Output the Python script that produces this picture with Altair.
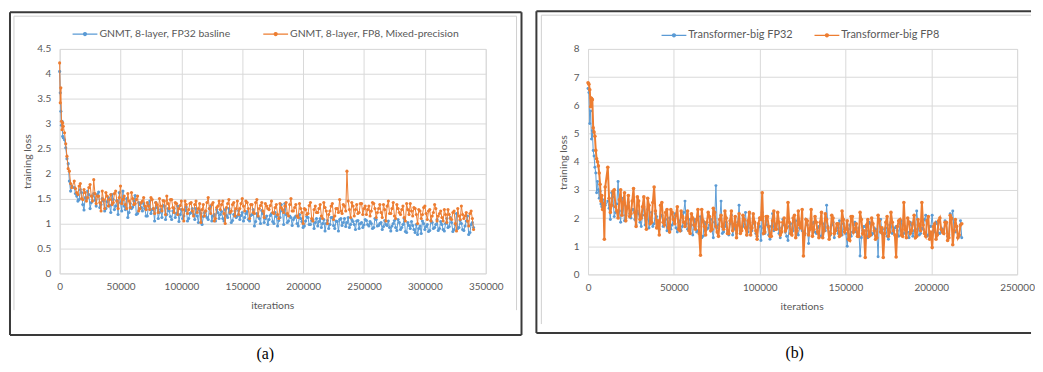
import altair as alt
import pandas as pd

BLUE = "#5B9BD5"
ORANGE = "#ED7D31"
GRID = "#D9D9D9"
TXT = "#595959"
FONT = "Lato"

# ---------------- panel (a) data ----------------
A_NAMES = ["GNMT, 8-layer, FP32 basline", "GNMT, 8-layer, FP8, Mixed-precision"]
A_ITER_EARLY = [0, 500, 1000, 1500, 2000, 2500, 3000, 4000, 5000, 6000, 7000, 8000, 9000, 10000]
A_ITER_EVEN = list(range(12000, 340001, 2000))   # 12000, 14000, ... 340000
A_ITER_ODD = list(range(13000, 339001, 2000))    # 13000, 15000, ... 339000
A_FP32_EARLY = [4.05, 3.62, 3.25, 2.97, 3.05, 2.75, 2.72, 2.68, 2.52, 2.30, 2.20, 1.85, 1.65, 1.75]
A_FP8_EARLY = [4.22, 3.42, 3.72, 3.05, 2.88, 3.02, 2.95, 2.82, 2.60, 2.35, 2.10, 2.05, 1.80, 1.72]
A_FP32_EVEN = [
    1.72, 1.55, 1.48, 1.62, 1.27, 1.50, 1.58, 1.42, 1.60, 1.35,
    1.63, 1.38, 1.45, 1.30, 1.52, 1.22, 1.48, 1.35, 1.18, 1.42,
    1.65, 1.28, 1.12, 1.40, 1.33, 1.56, 1.20, 1.38, 1.25, 1.30,
    1.15, 1.45, 1.28, 1.05, 1.32, 1.22, 1.12, 1.35, 1.18, 1.25,
    1.08, 1.30, 1.20, 1.04, 1.28, 1.15, 1.33, 1.10, 1.22, 1.18,
    1.30, 1.02, 1.20, 1.14, 1.25, 1.08, 1.35, 1.15, 1.05, 1.22,
    1.18, 1.10, 1.28, 1.12, 1.20, 1.06, 1.25, 1.15, 1.08, 1.22,
    1.12, 1.24, 1.05, 1.18, 0.95, 1.20, 1.10, 1.26, 1.02, 1.15,
    1.08, 1.20, 1.00, 1.14, 1.06, 1.38, 0.98, 1.18, 1.05, 1.12,
    1.08, 1.15, 0.95, 1.10, 0.92, 1.05, 1.12, 0.98, 1.08, 1.02,
    0.95, 1.10, 1.00, 0.85, 1.06, 0.98, 1.12, 0.90, 1.04, 1.08,
    0.96, 1.10, 1.02, 0.92, 1.08, 0.98, 1.05, 0.90, 1.02, 0.97,
    1.06, 0.95, 1.00, 0.92, 1.08, 0.96, 1.02, 0.94, 0.98, 1.05,
    0.85, 1.00, 0.92, 1.08, 0.88, 0.98, 0.84, 1.02, 0.90, 0.96,
    0.82, 0.78, 0.95, 1.05, 0.88, 0.98, 0.86, 1.02, 0.92, 1.08,
    0.90, 0.98, 0.85, 1.10, 0.94, 1.02, 0.88, 1.20, 0.92, 1.00,
    0.86, 1.05, 0.78, 0.98, 0.92,
]
A_FP32_ODD = [
    1.60, 1.45, 1.68, 1.38, 1.52, 1.65, 1.30, 1.55, 1.47, 1.58,
    1.32, 1.50, 1.25, 1.44, 1.36, 1.58, 1.28, 1.46, 1.62, 1.25,
    1.35, 1.50, 1.22, 1.30, 1.45, 1.18, 1.42, 1.32, 1.40, 1.15,
    1.38, 1.20, 1.30, 1.42, 1.10, 1.28, 1.36, 1.08, 1.30, 1.14,
    1.25, 1.12, 1.35, 1.18, 1.10, 1.26, 1.05, 1.20, 1.30, 1.08,
    1.15, 1.26, 0.98, 1.22, 1.12, 1.30, 1.05, 1.18, 1.28, 1.10,
    1.24, 1.05, 1.16, 1.30, 1.02, 1.18, 1.12, 1.26, 1.16, 1.05,
    1.20, 1.08, 1.16, 1.28, 1.04, 1.14, 1.00, 1.20, 1.10, 0.98,
    1.16, 1.04, 1.22, 0.95, 1.12, 1.25, 1.40, 1.02, 1.15, 0.96,
    1.12, 1.00, 1.18, 1.04, 0.95, 1.14, 0.98, 1.06, 0.90, 1.10,
    1.04, 0.92, 1.08, 1.00, 0.90, 1.12, 0.96, 1.05, 0.85, 1.10,
    1.02, 0.94, 1.12, 0.98, 1.04, 0.88, 1.06, 1.00, 0.92, 1.08,
    0.98, 1.04, 0.90, 1.10, 0.95, 1.00, 0.88, 1.06, 0.96, 0.92,
    0.95, 1.06, 0.86, 1.02, 0.92, 1.10, 0.82, 0.96, 1.04, 0.88,
    0.98, 0.90, 0.80, 1.00, 0.94, 0.84, 1.06, 0.90, 0.98, 0.86,
    1.04, 0.88, 1.00, 0.92, 1.12, 0.84, 0.98, 0.90, 1.06, 0.88,
    0.95, 1.15, 0.82, 1.02,
]
A_FP8_EVEN = [
    1.85, 1.62, 1.75, 1.50, 1.68, 1.45, 1.72, 1.55, 1.88, 1.40,
    1.55, 1.25, 1.48, 1.62, 1.35, 1.58, 1.42, 1.65, 1.30, 1.75,
    1.48, 1.38, 1.60, 1.32, 1.50, 1.40, 1.55, 1.30, 1.45, 1.35,
    1.42, 1.28, 1.48, 1.20, 1.38, 1.50, 1.25, 1.45, 1.55, 1.30,
    1.48, 1.22, 1.40, 1.30, 1.45, 1.05, 1.38, 1.28, 1.42, 1.15,
    1.45, 1.30, 1.02, 1.38, 1.25, 1.52, 1.20, 1.42, 1.10, 1.35,
    1.28, 1.45, 1.00, 1.40, 1.22, 1.38, 1.15, 1.45, 1.30, 1.50,
    1.25, 1.42, 1.10, 1.38, 1.20, 1.48, 1.30, 1.42, 1.12, 1.35,
    1.28, 1.45, 1.20, 1.38, 1.10, 1.32, 1.22, 1.42, 1.15, 1.50,
    1.25, 1.38, 1.12, 1.30, 1.00, 1.28, 1.20, 1.42, 1.05, 1.35,
    1.22, 1.38, 1.10, 1.32, 1.00, 1.25, 1.40, 1.15, 1.30, 1.48,
    1.20, 1.35, 2.05, 1.28, 1.42, 1.15, 1.38, 1.22, 1.40, 1.30,
    1.18, 1.35, 1.25, 1.40, 1.12, 1.30, 1.22, 1.38, 1.05, 1.45,
    1.20, 1.42, 1.10, 1.30, 1.18, 1.35, 1.05, 1.28, 1.40, 1.15,
    1.30, 1.00, 1.25, 1.18, 1.35, 1.08, 1.28, 1.15, 1.38, 1.05,
    1.20, 1.12, 1.28, 1.02, 1.18, 1.08, 1.25, 0.85, 1.15, 1.35,
    1.10, 1.22, 0.95, 1.25, 0.88,
]
A_FP8_ODD = [
    1.70, 1.58, 1.80, 1.48, 1.62, 1.52, 1.78, 1.45, 1.60, 1.55,
    1.42, 1.65, 1.30, 1.55, 1.48, 1.38, 1.60, 1.45, 1.52, 1.40,
    1.55, 1.30, 1.45, 1.62, 1.38, 1.48, 1.25, 1.42, 1.52, 1.28,
    1.35, 1.52, 1.30, 1.42, 1.22, 1.35, 1.46, 1.18, 1.40, 1.48,
    1.32, 1.42, 1.18, 1.36, 1.28, 1.45, 1.20, 1.40, 1.25, 1.38,
    1.22, 1.40, 1.28, 1.15, 1.42, 1.30, 1.38, 1.05, 1.32, 1.45,
    1.38, 1.20, 1.32, 1.48, 1.25, 1.42, 1.30, 1.18, 1.40, 1.35,
    1.45, 1.30, 1.38, 1.22, 1.42, 1.15, 1.36, 1.25, 1.40, 1.30,
    1.36, 1.22, 1.32, 1.18, 1.40, 1.28, 1.35, 1.20, 1.38, 1.25,
    1.32, 1.15, 1.40, 1.22, 1.30, 1.18, 1.36, 1.10, 1.28, 1.22,
    1.30, 1.15, 1.42, 1.25, 1.18, 1.35, 1.08, 1.30, 1.22, 1.25,
    1.38, 1.25, 1.45, 1.12, 1.35, 1.28, 1.20, 1.40, 1.18, 1.35,
    1.28, 1.15, 1.42, 1.30, 1.22, 1.38, 1.12, 1.28, 1.35, 1.20,
    1.30, 1.15, 1.38, 1.22, 1.28, 1.12, 1.40, 1.18, 1.25, 1.32,
    1.18, 1.28, 1.10, 1.32, 1.20, 1.25, 1.05, 1.22, 1.30, 1.15,
    1.25, 1.05, 1.18, 1.28, 1.10, 1.22, 1.00, 1.30, 1.08, 1.18,
    1.15, 1.05, 1.20, 1.10,
]
A_X_TICKS = [0, 50000, 100000, 150000, 200000, 250000, 300000, 350000]
A_Y_TICKS = [0, 0.5, 1, 1.5, 2, 2.5, 3, 3.5, 4, 4.5]

# ---------------- panel (b) data ----------------
B_NAMES = ["Transformer-big FP32", "Transformer-big FP8"]
B_ITER_EARLY = [0, 500, 1000, 1500, 2000, 2500, 3000, 3500, 4000, 4500, 5000,
                5500, 6000, 6500, 7000, 7500, 8000, 8500, 9000, 9500, 10000]
B_ITER_A = list(range(11500, 217001, 1500))   # 11500, 13000, ... 217000
B_ITER_B = list(range(12250, 217751, 1500))   # 12250, 13750, ... 217750
B_FP32_EARLY = [6.60, 6.45, 5.35, 5.80, 4.80, 5.10, 4.40, 4.20, 3.80, 3.60, 2.90,
                3.30, 3.00, 2.70, 2.95, 2.50, 2.40, 2.65, 2.30, 2.55, 2.45]
B_FP8_EARLY = [6.80, 6.75, 6.55, 5.95, 6.25, 6.20, 5.20, 5.05, 4.90, 4.40, 4.10,
               4.00, 3.85, 3.60, 3.20, 2.60, 2.80, 2.30, 2.50, 1.25, 3.10]
B_FP32_A = [
    2.60, 1.95, 2.75, 2.20, 3.30, 1.85, 2.45, 2.10, 2.55, 2.00,
    2.30, 1.75, 2.15, 1.70, 2.40, 1.95, 1.65, 2.20, 1.80, 2.05,
    1.60, 2.10, 1.85, 1.55, 2.00, 1.75, 2.15, 1.50, 1.90, 1.70,
    2.60, 1.60, 1.95, 1.40, 1.85, 1.55, 2.05, 1.35, 1.80, 1.65,
    1.95, 1.30, 3.15, 1.75, 2.60, 1.50, 1.85, 1.40, 2.10, 1.60,
    1.45, 2.45, 1.65, 1.90, 1.40, 2.15, 1.55, 1.80, 1.35, 1.70,
    2.20, 1.45, 1.75, 1.25, 2.15, 1.60, 1.85, 1.30, 1.95, 1.50,
    1.20, 1.80, 1.55, 1.90, 1.40, 1.70, 1.50, 1.95, 1.10, 1.65,
    1.85, 1.45, 1.70, 1.35, 1.60, 2.45, 1.50, 1.75, 1.30, 1.65,
    1.90, 1.40, 1.60, 1.00, 1.75, 1.50, 1.85, 1.35, 0.65, 1.55,
    1.70, 1.30, 1.80, 1.45, 1.60, 0.63, 1.95, 1.40, 1.65, 1.25,
    1.85, 1.50, 1.70, 1.35, 1.90, 1.45, 1.60, 1.30, 1.75, 1.55,
    2.25, 1.40, 1.65, 1.95, 1.35, 1.70, 2.10, 1.50, 1.80, 1.45,
    1.60, 1.90, 1.35, 2.15, 2.25, 1.50, 1.30, 1.90,
]
B_FP32_B = [
    2.35, 2.90, 2.05, 2.50, 2.25, 2.70, 1.90, 2.40, 2.15, 2.30,
    1.95, 2.25, 1.85, 2.10, 1.75, 2.30, 1.90, 1.70, 2.15, 1.80,
    2.05, 1.70, 1.95, 1.80, 1.60, 2.00, 1.65, 1.85, 1.55, 2.20,
    1.80, 1.55, 1.75, 1.95, 1.50, 1.70, 1.30, 1.85, 1.60, 1.75,
    1.55, 1.85, 1.65, 1.95, 1.45, 1.70, 1.55, 1.80, 1.40, 1.75,
    1.85, 1.55, 1.70, 2.20, 1.50, 1.65, 1.85, 1.45, 1.70, 1.20,
    1.65, 1.90, 1.40, 1.70, 1.55, 1.80, 1.45, 1.65, 1.75, 1.35,
    1.70, 1.50, 1.85, 1.45, 1.65, 1.55, 1.40, 1.75, 1.60, 1.80,
    1.50, 1.65, 1.35, 1.80, 1.55, 1.70, 1.40, 1.85, 1.55, 1.45,
    1.65, 1.80, 1.45, 1.60, 1.35, 1.75, 1.50, 1.65, 1.30, 1.70,
    1.55, 1.85, 1.40, 1.65, 1.50, 1.95, 1.45, 1.60, 1.35, 1.75,
    1.45, 1.65, 1.55, 1.80, 1.40, 1.70, 1.50, 1.85, 1.35, 1.60,
    1.75, 1.45, 1.60, 2.10, 1.40, 1.70, 1.55, 1.85, 1.45, 1.65,
    1.50, 1.80, 1.40, 1.95, 1.55, 1.70, 1.35, 1.30,
]
B_FP8_A = [
    3.80, 2.20, 2.95, 2.40, 2.00, 3.00, 2.55, 1.90, 2.80, 2.15,
    3.05, 1.70, 2.60, 2.00, 2.75, 1.60, 2.45, 1.85, 3.10, 1.65,
    1.40, 2.55, 1.75, 2.30, 1.50, 2.20, 1.80, 2.40, 1.55, 2.05,
    1.70, 2.25, 1.45, 2.00, 1.60, 2.30, 0.68, 1.90, 1.40, 2.20,
    1.55, 2.35, 1.70, 1.35, 2.10, 1.60, 2.00, 1.45, 2.25, 1.75,
    1.30, 2.15, 1.55, 1.95, 1.40, 2.20, 1.65, 1.85, 1.25, 2.00,
    2.90, 1.50, 2.05, 1.35, 1.90, 1.60, 2.20, 1.40, 1.85, 1.55,
    2.55, 1.45, 2.00, 1.30, 2.25, 1.65, 0.65, 1.95, 1.40, 2.30,
    1.60, 1.85, 1.30, 2.20, 1.55, 1.95, 1.25, 2.10, 1.45, 1.80,
    1.35, 2.25, 1.50, 1.90, 1.20, 2.05, 1.60, 1.35, 2.20, 1.45,
    0.60, 1.95, 1.40, 1.80, 1.25, 2.10, 1.50, 0.60, 1.85, 1.35,
    2.20, 1.55, 0.62, 1.90, 1.40, 2.55, 1.30, 1.85, 1.55, 2.10,
    1.35, 1.75, 2.55, 1.45, 1.90, 1.25, 0.95, 1.80, 1.40, 2.00,
    1.50, 1.85, 1.20, 2.10, 1.05, 1.95, 1.30, 1.75,
]
B_FP8_B = [
    2.70, 2.45, 3.00, 2.25, 2.65, 2.10, 2.90, 2.35, 2.05, 2.60,
    2.20, 2.75, 1.95, 2.40, 2.10, 2.70, 1.80, 2.55, 2.25, 1.90,
    2.45, 1.85, 2.20, 1.65, 2.30, 1.95, 2.10, 1.60, 2.25, 1.85,
    2.00, 1.55, 2.15, 1.75, 1.95, 1.45, 2.30, 1.70, 1.85, 2.05,
    1.60, 2.20, 1.50, 1.95, 1.70, 2.25, 1.45, 1.90, 1.55, 2.05,
    1.75, 1.45, 2.10, 1.65, 1.90, 1.40, 2.15, 1.55, 1.80, 1.95,
    1.45, 2.05, 1.70, 1.35, 2.25, 1.60, 1.85, 1.50, 2.00, 1.65,
    1.85, 1.40, 2.10, 1.55, 1.75, 2.30, 1.45, 1.90, 1.60, 1.35,
    2.05, 1.50, 1.85, 1.30, 2.15, 1.65, 1.45, 2.00, 1.55, 1.80,
    1.40, 1.95, 1.60, 1.25, 2.05, 1.50, 1.80, 1.35, 1.95, 1.55,
    1.75, 1.35, 2.00, 1.55, 1.30, 1.90, 1.65, 1.45, 2.05, 1.50,
    1.85, 1.40, 1.70, 1.95, 1.35, 1.60, 2.00, 1.45, 1.80, 1.30,
    1.95, 1.55, 1.75, 1.35, 2.05, 1.50, 1.70, 1.25, 1.90, 1.60,
    1.45, 1.85, 1.30, 2.00, 1.55, 1.70, 1.40, 1.80,
]
B_X_TICKS = [0, 50000, 100000, 150000, 200000, 250000]
B_Y_TICKS = [0, 1, 2, 3, 4, 5, 6, 7, 8]

LEGEND_SYMBOL = "M-1,0L1,0M-0.12,0a0.12,0.12 0 1,0 0.24,0a0.12,0.12 0 1,0 -0.24,0"


def series_df(parts, name):
    iters, vals = [], []
    for it, v in parts:
        assert len(it) == len(v), (name, len(it), len(v))
        iters += list(it)
        vals += list(v)
    df = pd.DataFrame({"iter": iters, "loss": vals, "series": name})
    return df.sort_values("iter").reset_index(drop=True)


def hrule(x0, x1, y0, color, width):
    return alt.Chart(alt.Data(values=[{}])).mark_rule(color=color, strokeWidth=width).encode(
        x=alt.value(x0), x2=alt.value(x1), y=alt.value(y0))


def vrule(x0, y0, y1, color, width):
    return alt.Chart(alt.Data(values=[{}])).mark_rule(color=color, strokeWidth=width).encode(
        x=alt.value(x0), y=alt.value(y0), y2=alt.value(y1))


def panel(d32, d8, names, xmax, xticks, ymax, yticks, yfmt, w, h,
          outer, inner, legend_xy, col_pad, leg_size, ytitle_xy, xtitle_xy,
          caption, cap_xy, fp32_size, fp8_width, fp8_size):
    x = alt.X("iter:Q", scale=alt.Scale(domain=[0, xmax], nice=False),
              axis=alt.Axis(values=xticks, format="d", grid=True, gridColor=GRID,
                            domain=False, ticks=False, labelColor=TXT, labelFont=FONT,
                            labelFontSize=10, labelPadding=8, labelFlush=False,
                            title="iterations", titleFont=FONT, titleFontSize=10.5,
                            titleFontWeight="normal", titleColor=TXT,
                            titleX=xtitle_xy[0], titleY=xtitle_xy[1],
                            titleAlign="center", titleBaseline="middle"))
    y = alt.Y("loss:Q", scale=alt.Scale(domain=[0, ymax], nice=False),
              axis=alt.Axis(values=yticks, format=yfmt, grid=True, gridColor=GRID,
                            domain=False, ticks=False, labelColor=TXT, labelFont=FONT,
                            labelFontSize=10, labelPadding=9, labelFlush=False,
                            title="training loss", titleFont=FONT, titleFontSize=10.5,
                            titleFontWeight="normal", titleColor=TXT,
                            titleX=ytitle_xy[0], titleY=ytitle_xy[1], titleAngle=270,
                            titleAlign="center", titleBaseline="middle"))
    color = alt.Color("series:N", scale=alt.Scale(domain=names, range=[BLUE, ORANGE]),
                      legend=alt.Legend(orient="none", legendX=legend_xy[0],
                                        legendY=legend_xy[1], direction="horizontal",
                                        title=None, symbolType=LEGEND_SYMBOL,
                                        symbolSize=625, symbolStrokeWidth=1.3,
                                        labelFont=FONT, labelFontSize=leg_size,
                                        labelColor=TXT, labelOffset=1, labelLimit=400,
                                        columnPadding=col_pad))
    l32 = alt.Chart(d32).mark_line(
        strokeWidth=1, point=alt.OverlayMarkDef(filled=True, size=fp32_size)
    ).encode(x=x, y=y, color=color)
    l8 = alt.Chart(d8).mark_line(
        strokeWidth=fp8_width, point=alt.OverlayMarkDef(filled=True, size=fp8_size)
    ).encode(x=x, y=y, color=color)
    ix0, ix1, iy0, iy1, inner_right = inner
    ox0, ox1, oy0, oy1, has_right = outer
    layers = [
        hrule(ix0, ix1, iy0, "#D0D0D0", 1),
        vrule(ix0, iy0, iy1, "#D0D0D0", 1),
    ]
    if inner_right:
        layers.append(vrule(ix1, iy0, iy1, "#D0D0D0", 1))
    layers += [
        hrule(ox0, ox1, oy0, "#3A3A3A", 2),
        vrule(ox0, oy0, oy1, "#3A3A3A", 2),
        hrule(ox0, ox1, oy1, "#3A3A3A", 2),
    ]
    if has_right:
        layers.append(vrule(ox1, oy0, oy1, "#3A3A3A", 2))
    layers += [l32, l8]
    layers.append(alt.Chart(alt.Data(values=[{}])).mark_text(
        text=caption, font="Liberation Serif", fontSize=16, color="#000000",
        align="center", baseline="middle").encode(
        x=alt.value(cap_xy[0]), y=alt.value(cap_xy[1])))
    return alt.layer(*layers).properties(width=w, height=h)


a32 = series_df([(A_ITER_EARLY, A_FP32_EARLY), (A_ITER_EVEN, A_FP32_EVEN),
                 (A_ITER_ODD, A_FP32_ODD)], A_NAMES[0])
a8 = series_df([(A_ITER_EARLY, A_FP8_EARLY), (A_ITER_EVEN, A_FP8_EVEN),
                (A_ITER_ODD, A_FP8_ODD)], A_NAMES[1])
b32 = series_df([(B_ITER_EARLY, B_FP32_EARLY), (B_ITER_A, B_FP32_A),
                 (B_ITER_B, B_FP32_B)], B_NAMES[0])
b8 = series_df([(B_ITER_EARLY, B_FP8_EARLY), (B_ITER_A, B_FP8_A),
                (B_ITER_B, B_FP8_B)], B_NAMES[1])

pa = panel(a32, a8, A_NAMES, 350000, A_X_TICKS, 4.5, A_Y_TICKS, ".1~f", 429, 226,
           outer=(-50, 465, -37, 288, True), inner=(-46, 460, -33, 263, True),
           legend_xy=(12, -28.5), col_pad=30, leg_size=10.5, ytitle_xy=(-32, 113),
           xtitle_xy=(214, 32), caption="(a)", cap_xy=(207, 307),
           fp32_size=10, fp8_width=1, fp8_size=10)

pb = panel(b32, b8, B_NAMES, 250000, B_X_TICKS, 8, B_Y_TICKS, "d", 432, 227,
           outer=(-52, 446, -38, 286, False), inner=(-47, 446, -34, 277, False),
           legend_xy=(73, -27.5), col_pad=18, leg_size=11, ytitle_xy=(-25, 114),
           xtitle_xy=(215, 32), caption="(b)", cap_xy=(208, 306),
           fp32_size=9, fp8_width=2, fp8_size=13)

chart = alt.hconcat(pa, pb, spacing=11).resolve_scale(
    color="independent", x="independent", y="independent"
).properties(padding=0).configure_view(strokeWidth=0).configure(font=FONT)

chart.save("out.html", embed_options={"renderer": "svg", "actions": False})
